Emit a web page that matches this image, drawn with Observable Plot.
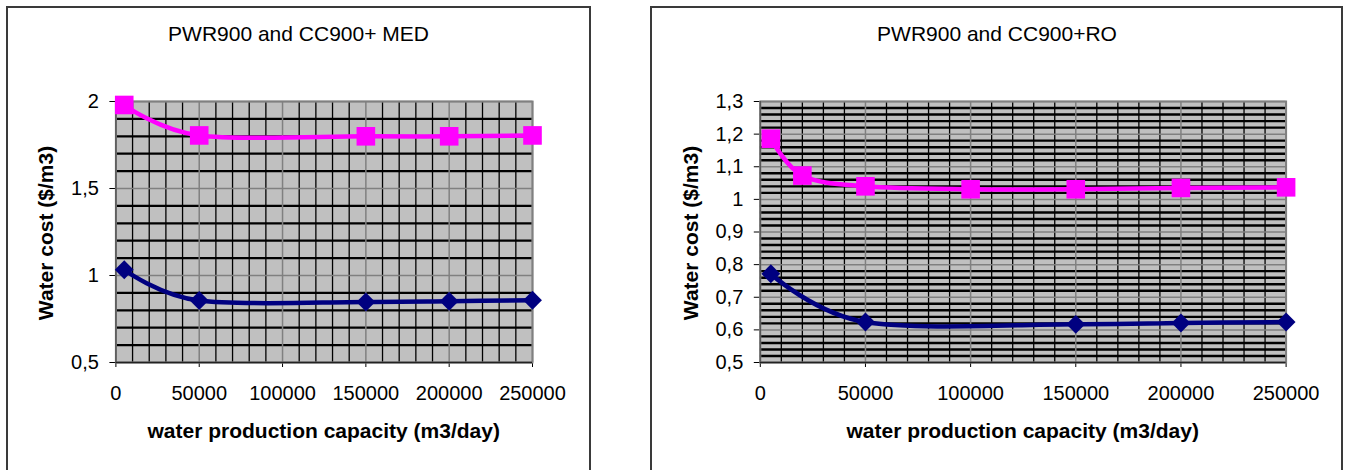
<!DOCTYPE html>
<html><head><meta charset="utf-8">
<script src="https://cdn.jsdelivr.net/npm/d3@7"></script>
<script src="https://cdn.jsdelivr.net/npm/@observablehq/plot@0.6"></script>
<style>
body{margin:0;background:#fff;width:1347px;height:470px;overflow:hidden;position:relative;font-family:"Liberation Sans",Arial,sans-serif;}
.frame{position:absolute;top:6px;height:480px;box-sizing:border-box;border:2px solid #3a3a3a;}
.t{position:absolute;white-space:nowrap;line-height:1;color:#000;font-size:21px;}
.c{transform:translate(-50%,-50%);}
.r{transform:translate(-50%,-50%) rotate(-90deg);}
.b{font-weight:bold;}
.plot{position:absolute;top:6px;}
</style></head><body>
<script>
// ---- data ----
const medX   = [5000, 50000, 150000, 200000, 250000];
const medCC  = [1.98, 1.805, 1.80, 1.80, 1.805];     // CC900 + MED (pink squares)
const medPWR = [1.033, 0.856, 0.848, 0.852, 0.858];  // PWR900 + MED (navy diamonds)

const roCCX  = [5000, 20000, 50000, 100000, 150000, 200000, 250000];
const roCC   = [1.186, 1.073, 1.04, 1.031, 1.031, 1.035, 1.037];
const roPWRX = [5000, 50000, 150000, 200000, 250000];
const roPWR  = [0.772, 0.624, 0.617, 0.621, 0.624];

const xTicks     = [0, 50000, 100000, 150000, 200000, 250000];
const medYTicks  = [0.5, 1, 1.5, 2];
const roYTicks   = [0.5, 0.6, 0.7, 0.8, 0.9, 1, 1.1, 1.2, 1.3];

const titles = ["PWR900 and CC900+ MED", "PWR900 and CC900+RO"];
const xLabel = "water production capacity (m3/day)";
const yLabel = "Water cost ($/m3)";

// gridline positions
const xMinor = d3.range(1, 25).map(k => k * 10000).filter(v => v % 50000 !== 0);
const medYMinor = d3.range(6, 20).filter(k => k % 5 !== 0).map(k => k / 10);
const roYMinor = d3.range(26, 65).filter(k => k % 5 !== 0).map(k => k / 50);

const PINK = "#ff00ff", NAVY = "#000080";
const fmtY = d => String(d).replace(".", ",");

function chart({left, width, ml, mr, yDomain, yTicks, yMinor, hw, series}) {
  const marks = [
    Plot.frame({fill: "#c0c0c0", stroke: null}),
    Plot.ruleX(xMinor, {stroke: "#000", strokeWidth: 1.3}),
    Plot.ruleY(yMinor, {stroke: "#000", strokeWidth: hw}),
    Plot.ruleY(yTicks, {stroke: "#808080", strokeWidth: 1.5}),
    Plot.ruleX(xTicks, {stroke: "#808080", strokeWidth: 1.5}),
    Plot.frame({stroke: "#808080", strokeWidth: 2}),
    Plot.ruleY([yDomain[0]], {stroke: "#222", strokeWidth: 1.3}),
    Plot.ruleX([0], {stroke: "#555", strokeWidth: 1.3})
  ];
  for (const s of series) {
    const rows = s.x.map((x, i) => ({x, y: s.y[i]}));
    marks.push(Plot.line(rows, {x: "x", y: "y", curve: "cardinal", stroke: s.color, strokeWidth: 4.5}));
    marks.push(Plot.dot(rows, {x: "x", y: "y", symbol: s.symbol, r: s.r, fill: s.color, stroke: null}));
  }
  const svg = Plot.plot({
    width, height: 464,
    marginLeft: ml, marginRight: mr, marginTop: 95, marginBottom: 108,
    style: {fontFamily: "Liberation Sans, Arial, sans-serif", fontSize: "20px", background: "transparent", overflow: "visible", color: "#000"},
    x: {domain: [0, 250000], ticks: xTicks, tickFormat: d => String(d), tickSize: 5, tickPadding: 18, label: null},
    y: {domain: yDomain, ticks: yTicks, tickFormat: fmtY, tickSize: 6, tickPadding: 11, label: null},
    marks
  });
  svg.classList.add("plot");
  svg.style.position = "absolute";
  svg.style.left = left + "px";
  svg.style.top = "6px";
  document.body.appendChild(svg);
}

function frame(left, width) {
  const d = document.createElement("div");
  d.className = "frame";
  d.style.left = left + "px";
  d.style.width = width + "px";
  document.body.appendChild(d);
}
function text(str, x, y, cls) {
  const d = document.createElement("div");
  d.className = "t " + cls;
  d.textContent = str;
  d.style.left = x + "px";
  d.style.top = y + "px";
  document.body.appendChild(d);
}

frame(6, 585);
frame(650, 693);

chart({left: 6, width: 585, ml: 109.4, mr: 59, yDomain: [0.5, 2], yTicks: medYTicks, yMinor: medYMinor, hw: 2.3,
  series: [
    {x: medX, y: medCC, color: PINK, symbol: "square", r: 10.5},
    {x: medX, y: medPWR, color: NAVY, symbol: "diamond2", r: 8.5}
  ]});
chart({left: 650, width: 693, ml: 109.8, mr: 57.4, yDomain: [0.5, 1.3], yTicks: roYTicks, yMinor: roYMinor, hw: 2.4,
  series: [
    {x: roCCX, y: roCC, color: PINK, symbol: "square", r: 10.5},
    {x: roPWRX, y: roPWR, color: NAVY, symbol: "diamond2", r: 8.5}
  ]});

text(titles[0], 298.5, 33.3, "c");
text(titles[1], 997, 33.3, "c");
text(xLabel, 323.7, 430, "c b");
text(xLabel, 1022.7, 430, "c b");
text(yLabel, 44.6, 232.8, "r b");
text(yLabel, 690, 232.8, "r b");
</script>
</body></html>
